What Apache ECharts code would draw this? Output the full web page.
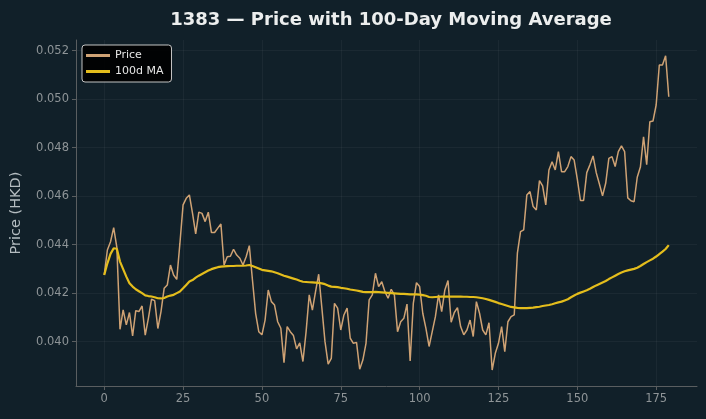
<!DOCTYPE html>
<html>
<head>
<meta charset="utf-8">
<title>1383 price chart</title>
<script src="https://cdn.jsdelivr.net/npm/echarts@6.0.0/dist/echarts.min.js"></script>
<style>
  html, body {
    margin: 0;
    padding: 0;
    background: #112029;
  }
  #chart {
    width: 706px;
    height: 419px;
  }
</style>
</head>
<body>
<div id="chart"></div>
<script>
// 收盘价 (day 0..179)
const price = [
  0.04275, 0.04378, 0.04412, 0.04470, 0.04389, 0.04051, 0.04131, 0.04069, 0.04120, 0.04024,
  0.04128, 0.04124, 0.04147, 0.04027, 0.04096, 0.04175, 0.04169, 0.04054, 0.04124, 0.04220,
  0.04234, 0.04316, 0.04275, 0.04257, 0.04406, 0.04564, 0.04591, 0.04605, 0.04529, 0.04444,
  0.04534, 0.04529, 0.04495, 0.04534, 0.04450, 0.04450, 0.04468, 0.04485, 0.04316, 0.04350,
  0.04352, 0.04381, 0.04357, 0.04344, 0.04316, 0.04350, 0.04396, 0.04254, 0.04117, 0.04041,
  0.04028, 0.04089, 0.04213, 0.04165, 0.04151, 0.04082, 0.04055, 0.03913, 0.04062, 0.04041,
  0.04025, 0.03970, 0.03995, 0.03918, 0.04040, 0.04193, 0.04130, 0.04206, 0.04278, 0.04140,
  0.04000, 0.03907, 0.03931, 0.04158, 0.04138, 0.04048, 0.04110, 0.04138, 0.04014, 0.03993,
  0.03997, 0.03886, 0.03924, 0.03993, 0.04172, 0.04193, 0.04282, 0.04227, 0.04247, 0.04206,
  0.04179, 0.04216, 0.04193, 0.04041, 0.04082, 0.04096, 0.04155, 0.03920, 0.04158, 0.04243,
  0.04227, 0.04117, 0.04055, 0.03980, 0.04041, 0.04103, 0.04193, 0.04124, 0.04213, 0.04252,
  0.04080, 0.04120, 0.04140, 0.04062, 0.04028, 0.04048, 0.04089, 0.04021, 0.04165, 0.04117,
  0.04048, 0.04028, 0.04078, 0.03883, 0.03952, 0.03993, 0.04062, 0.03959, 0.04082, 0.04103,
  0.04110, 0.04365, 0.04454, 0.04461, 0.04605, 0.04619, 0.04557, 0.04543, 0.04664, 0.04642,
  0.04564, 0.04708, 0.04742, 0.04708, 0.04784, 0.04701, 0.04701, 0.04722, 0.04763, 0.04749,
  0.04670, 0.04582, 0.04582, 0.04697, 0.04729, 0.04766, 0.04697, 0.04650, 0.04601, 0.04653,
  0.04756, 0.04763, 0.04722, 0.04784, 0.04807, 0.04784, 0.04593, 0.04581, 0.04577, 0.04678,
  0.04720, 0.04845, 0.04730, 0.04907, 0.04910, 0.04976, 0.05141, 0.05141, 0.05179, 0.05010
];

// 100日均线
const ma100 = [
  0.04275, 0.04323, 0.04362, 0.04385, 0.04383, 0.04330, 0.04299, 0.04268, 0.04241, 0.04227,
  0.04216, 0.04208, 0.04200, 0.04191, 0.04188, 0.04186, 0.04183, 0.04179, 0.04178, 0.04180,
  0.04186, 0.04190, 0.04193, 0.04200, 0.04207, 0.04220, 0.04234, 0.04248, 0.04254, 0.04264,
  0.04272, 0.04279, 0.04286, 0.04293, 0.04299, 0.04303, 0.04307, 0.04309, 0.04310, 0.04311,
  0.04312, 0.04312, 0.04313, 0.04313, 0.04313, 0.04314, 0.04316, 0.04312, 0.04307, 0.04302,
  0.04296, 0.04294, 0.04292, 0.04290, 0.04286, 0.04282, 0.04277, 0.04272, 0.04268, 0.04264,
  0.04260, 0.04256, 0.04251, 0.04247, 0.04246, 0.04245, 0.04244, 0.04243, 0.04242, 0.04240,
  0.04237, 0.04231, 0.04227, 0.04226, 0.04225, 0.04222, 0.04220, 0.04218, 0.04215, 0.04213,
  0.04211, 0.04208, 0.04205, 0.04204, 0.04204, 0.04204, 0.04205, 0.04204, 0.04203, 0.04202,
  0.04201, 0.04200, 0.04199, 0.04198, 0.04197, 0.04197, 0.04196, 0.04195, 0.04195, 0.04195,
  0.04194, 0.04192, 0.04189, 0.04184, 0.04183, 0.04184, 0.04185, 0.04186, 0.04186, 0.04186,
  0.04186, 0.04186, 0.04186, 0.04186, 0.04185, 0.04185, 0.04184, 0.04184, 0.04183, 0.04181,
  0.04179, 0.04176, 0.04172, 0.04168, 0.04164, 0.04159, 0.04155, 0.04151, 0.04147, 0.04143,
  0.04141, 0.04139, 0.04138, 0.04138, 0.04138, 0.04139, 0.04140, 0.04142, 0.04144, 0.04147,
  0.04149, 0.04151, 0.04154, 0.04158, 0.04162, 0.04165, 0.04170, 0.04175, 0.04183, 0.04190,
  0.04197, 0.04202, 0.04207, 0.04212, 0.04218, 0.04225, 0.04232, 0.04238, 0.04244, 0.04250,
  0.04258, 0.04265, 0.04272, 0.04279, 0.04285, 0.04290, 0.04294, 0.04297, 0.04300, 0.04305,
  0.04312, 0.04320, 0.04328, 0.04335, 0.04342, 0.04351, 0.04361, 0.04371, 0.04382, 0.04398
];

// 坐标轴刻度
const xTicks = [0, 25, 50, 75, 100, 125, 150, 175];
const yTicks = [0.040, 0.042, 0.044, 0.046, 0.048, 0.050, 0.052];

const axisColor = "#5a5e60";
const labelColor = "#8e9497";
const gridColor = "rgba(255,255,255,0.045)";

let chart = echarts.init(document.getElementById("chart"), null, { renderer: "canvas" });
chart.setOption({
  animation: false,
  backgroundColor: "#112029",
  textStyle: {
    fontFamily: "DejaVu Sans"
  },
  title: {
    text: "1383 — Price with 100-Day Moving Average",
    left: 386,
    textAlign: "center",
    top: 6,
    textStyle: {
      color: "#eceeee",
      fontSize: 18,
      fontWeight: "bold",
      fontFamily: "DejaVu Sans"
    }
  },
  legend: {
    orient: "vertical",
    left: 82,
    top: 45,
    padding: [5, 8, 5, 4],
    itemGap: 5,
    itemWidth: 24,
    itemHeight: 3,
    icon: "rect",
    backgroundColor: "rgba(0,0,0,0.92)",
    borderColor: "#c4c4c4",
    borderWidth: 1,
    borderRadius: 3,
    textStyle: {
      color: "#e6e6e6",
      fontSize: 11,
      fontFamily: "DejaVu Sans"
    },
    data: ["Price", "100d MA"]
  },
  grid: {
    left: 76,
    right: 9,
    top: 40,
    bottom: 33
  },
  xAxis: {
    type: "value",
    min: -8.95,
    max: 187.95,
    axisLine: {
      onZero: false,
      lineStyle: { color: axisColor }
    },
    axisTick: {
      show: true,
      length: 4,
      customValues: xTicks,
      lineStyle: { color: axisColor }
    },
    axisLabel: {
      customValues: xTicks,
      color: labelColor,
      fontSize: 11.5,
      margin: 7
    },
    splitLine: {
      show: true,
      customValues: xTicks,
      lineStyle: { color: gridColor }
    }
  },
  yAxis: {
    type: "value",
    min: 0.03817,
    max: 0.05244,
    name: "Price (HKD)",
    nameLocation: "middle",
    nameGap: 52,
    nameTextStyle: {
      color: "#b4bcc0",
      fontSize: 14.5
    },
    axisLine: {
      show: true,
      onZero: false,
      lineStyle: { color: axisColor }
    },
    axisTick: {
      show: true,
      length: 4,
      customValues: yTicks,
      lineStyle: { color: axisColor }
    },
    axisLabel: {
      customValues: yTicks,
      color: labelColor,
      fontSize: 11.5,
      margin: 7,
      formatter: v => v.toFixed(3)
    },
    splitLine: {
      show: true,
      customValues: yTicks,
      lineStyle: { color: gridColor }
    }
  },
  series: [
    {
      name: "Price",
      type: "line",
      showSymbol: false,
      data: price.map((v, i) => [i, v]),
      lineStyle: { color: "#cfa274", width: 1.5 },
      itemStyle: { color: "#cfa274" },
      z: 2
    },
    {
      name: "100d MA",
      type: "line",
      showSymbol: false,
      data: ma100.map((v, i) => [i, v]),
      lineStyle: { color: "#e4bd1c", width: 2.2 },
      itemStyle: { color: "#e4bd1c" },
      z: 3
    }
  ]
});
</script>
</body>
</html>
